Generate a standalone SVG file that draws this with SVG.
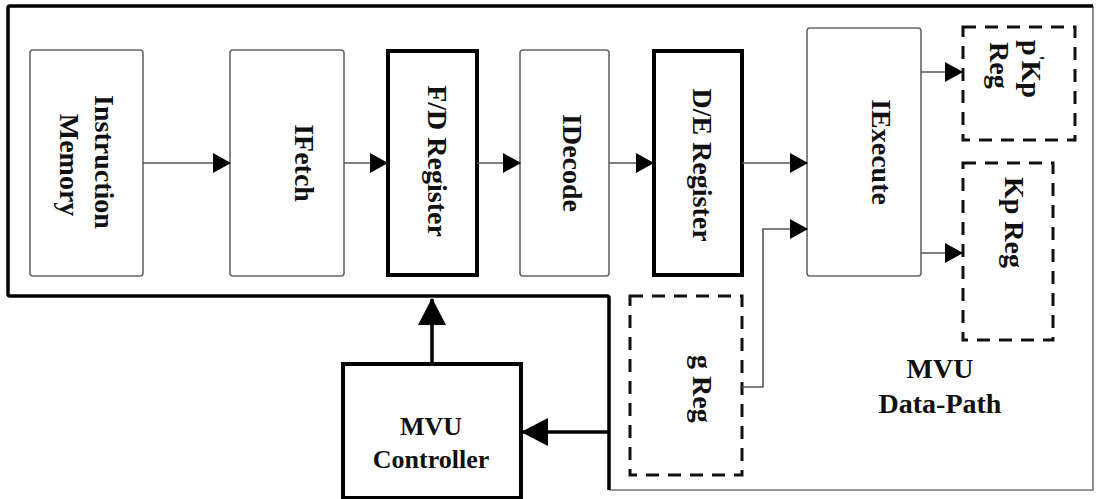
<svg xmlns="http://www.w3.org/2000/svg" width="1096" height="499" viewBox="0 0 1096 499">
<defs>
<style>
text{font-family:'Liberation Serif',serif;font-weight:bold;font-size:28px;fill:#111}
.tc{font-size:26px}
.thin{fill:#fff;stroke:#666;stroke-width:1.6}
.thick{fill:#fff;stroke:#000;stroke-width:4}
.dash{fill:none;stroke:#111;stroke-width:3;stroke-dasharray:13 9}
.ln{fill:none;stroke:#555;stroke-width:1.6}
.lnb{fill:none;stroke:#000;stroke-width:3.5}
</style>
<marker id="a" viewBox="0 0 18 20" refX="17" refY="10" markerWidth="18" markerHeight="20" markerUnits="userSpaceOnUse" orient="auto"><path d="M0,0 L18,10 L0,20 z" fill="#000"/></marker>
<marker id="A" viewBox="0 0 27 28" refX="26" refY="14" markerWidth="27" markerHeight="28" markerUnits="userSpaceOnUse" orient="auto"><path d="M0,0 L27,14 L0,28 z" fill="#000"/></marker>
</defs>
<g id="boundary">
<path d="M609,490 L1093,490 L1093,6" fill="none" stroke="#777" stroke-width="1.6"/>
<path d="M1093,6 L10,6 Q8,6 8,8 L8,294 Q8,296 10,296 L607,296 Q609,296 609,298 L609,490" fill="none" stroke="#000" stroke-width="3.5"/>
</g>
<g font-family="Liberation Serif, serif" font-weight="bold">
<g id="instruction-memory"><rect class="thin" x="30" y="50" width="113" height="226" rx="3"/>
<text text-anchor="middle" transform="translate(95,162) rotate(90)">Instruction</text>
<text text-anchor="middle" transform="translate(60,165) rotate(90)">Memory</text></g>
<g id="ifetch"><rect class="thin" x="230" y="50" width="114" height="226" rx="3"/>
<text text-anchor="middle" transform="translate(295,163) rotate(90)">IFetch</text></g>
<g id="fd-register"><rect class="thick" x="388" y="51" width="89" height="224"/>
<text text-anchor="middle" transform="translate(428,161) rotate(90)">F/D Register</text></g>
<g id="idecode"><rect class="thin" x="520" y="50" width="89" height="226" rx="3"/>
<text text-anchor="middle" transform="translate(563,163) rotate(90)">IDecode</text></g>
<g id="de-register"><rect class="thick" x="654" y="51" width="88" height="224"/>
<text text-anchor="middle" transform="translate(693,165) rotate(90)">D/E Register</text></g>
<g id="iexecute"><rect class="thin" x="807" y="28" width="114" height="248" rx="3"/>
<text text-anchor="middle" transform="translate(872,152) rotate(90)">IExecute</text></g>
<g id="pkp-reg"><rect class="dash" x="963" y="27" width="112" height="113"/>
<text transform="translate(1022,40) rotate(90)">p<tspan dy="-9" font-size="18">'</tspan><tspan dy="9">Kp</tspan></text>
<text transform="translate(990,42) rotate(90)">Reg</text></g>
<g id="kp-reg"><rect class="dash" x="963" y="163" width="90" height="177"/>
<text transform="translate(1005,177) rotate(90)">Kp Reg</text></g>
<g id="g-reg"><rect class="dash" x="630" y="296" width="112" height="179"/>
<text transform="translate(693,355) rotate(90)">g Reg</text></g>
<g id="mvu-controller"><rect class="thick" x="343" y="364" width="178" height="134"/>
<text class="tc" text-anchor="middle" x="431" y="435">MVU</text>
<text class="tc" text-anchor="middle" x="431" y="468">Controller</text></g>
<g id="datapath-label">
<text text-anchor="middle" x="940" y="378">MVU</text>
<text text-anchor="middle" x="940" y="413">Data-Path</text></g>
</g>
<g id="connectors">
<path class="ln" d="M143,163 L230,163" marker-end="url(#a)"/>
<path class="ln" d="M344,163 L387,163" marker-end="url(#a)"/>
<path class="ln" d="M477,163 L520,163" marker-end="url(#a)"/>
<path class="ln" d="M609,163 L653,163" marker-end="url(#a)"/>
<path class="ln" d="M742,163 L807,163" marker-end="url(#a)"/>
<path class="ln" d="M742,387 L763,387 L763,229 L807,229" marker-end="url(#a)"/>
<path class="ln" d="M921,72 L962,72" marker-end="url(#a)"/>
<path class="ln" d="M921,253 L962,253" marker-end="url(#a)"/>
<path class="lnb" d="M432,364 L432,299" marker-end="url(#A)"/>
<path class="lnb" d="M609,432 L522,432" marker-end="url(#A)"/>
</g>
</svg>
